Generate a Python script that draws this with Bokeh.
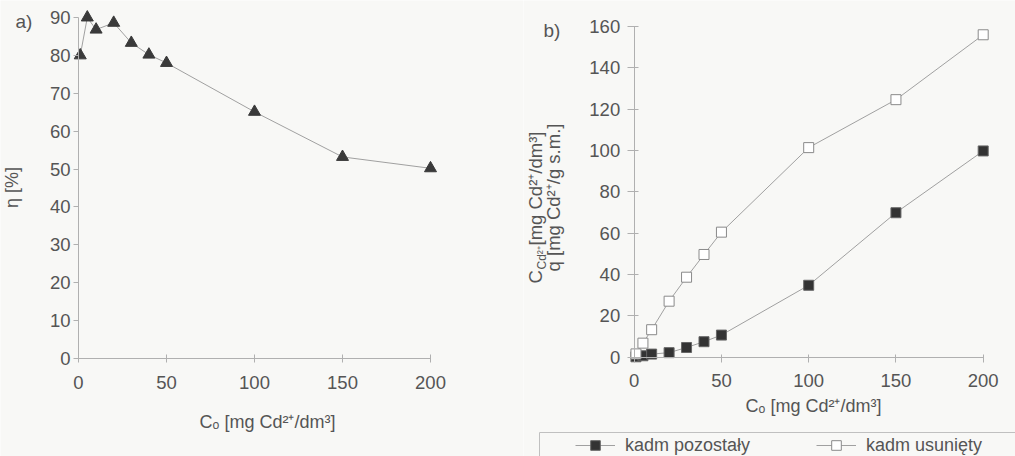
import math
from bokeh.plotting import figure
from bokeh.models import Range1d, FixedTicker, LinearAxis, Legend, LegendItem
from bokeh.layouts import row
from bokeh.embed import file_html
from bokeh.resources import INLINE
from bokeh.core.properties import value

# ---------------- data ----------------
conc = [1, 5, 10, 20, 30, 40, 50, 100, 150, 200]
eta = [80.0, 90.0, 86.8, 88.6, 83.3, 80.2, 78.0, 65.1, 53.2, 50.2]

remaining = [0.2, 0.7, 1.5, 2.2, 4.7, 7.5, 10.7, 34.8, 69.9, 99.8]
removed = [1.6, 6.8, 13.3, 27.1, 38.7, 49.7, 60.5, 101.4, 124.6, 156.0]

x_ticks = [0, 50, 100, 150, 200]
eta_ticks = [0, 10, 20, 30, 40, 50, 60, 70, 80, 90]
b_ticks = [0, 20, 40, 60, 80, 100, 120, 140, 160]

x_title = "Cₒ [mg Cd²⁺/dm³]"
eta_title = "η [%]"
legend_labels = ["kadm pozostały", "kadm usunięty"]

# ---------------- style ----------------
BG = "#f8f8f6"
TXT = "#555555"
AX = "#b0b0b0"
LINE = "#a0a0a0"
FONT = "Liberation Sans"
FS_TICK = "18.5px"
FS = "18px"
M = 0
H = 456
W_A, W_B = 523, 492


def make_fig(left, width, px0, px1, xv1, py0, py1, yv1):
    sx = (px1 - px0) / xv1
    sy = (py0 - py1) / yv1
    xr = Range1d((left - px0) / sx, (left + width - px0) / sx)
    yr = Range1d((py0 - (M + H)) / sy, (py0 - M) / sy)
    p = figure(width=width, height=H, x_range=xr, y_range=yr,
               output_backend="svg", toolbar_location=None, min_border=0,
               x_axis_type=None, y_axis_type=None,
               background_fill_color=BG, border_fill_color=BG,
               outline_line_color=None)

    def to_data(px, py):
        return ((px - px0) / sx, (py0 - py) / sy)
    return p, to_data


def style_axis(ax, t_in, t_out, standoff):
    ax.axis_line_color = AX
    ax.axis_line_width = 1
    ax.major_tick_line_color = AX
    ax.major_tick_in = t_in
    ax.major_tick_out = t_out
    ax.minor_tick_line_color = None
    ax.major_label_text_font = FONT
    ax.major_label_text_font_size = FS_TICK
    ax.major_label_text_color = TXT
    ax.major_label_standoff = standoff


def add_text(p, to_data, px, py, txt, align="center", angle=0.0, size=FS):
    x, y = to_data(px, py)
    p.text(x=[x], y=[y], text=[txt], text_font=value(FONT),
           text_font_size=value(size), text_color=TXT,
           text_align=align, text_baseline="middle", angle=angle)


# ---------------- chart a ----------------
pa, da = make_fig(M, W_A, 78, 430, 200, 358, 17, 90)

xa = LinearAxis(ticker=FixedTicker(ticks=x_ticks), fixed_location=0, bounds=(0, 200))
style_axis(xa, 4, 4, 13)
pa.add_layout(xa, "below")
ya = LinearAxis(ticker=FixedTicker(ticks=eta_ticks), fixed_location=0, bounds=(0, 90))
style_axis(ya, 0, 5, 3)
pa.add_layout(ya, "left")

pa.line(conc, eta, line_color=LINE, line_width=1)
pa.scatter(conc, eta, marker="triangle", size=12, fill_color="#3a3a3a",
           line_color="#3a3a3a")

add_text(pa, da, 15, 21, "a)", align="left", size="19px")
add_text(pa, da, 11, 187, eta_title, angle=math.pi / 2)
add_text(pa, da, 267, 421, x_title)

# ---------------- chart b ----------------
pb, db = make_fig(M + W_A, W_B, 633.7, 982.7, 200, 356.7, 26, 160)

xb = LinearAxis(ticker=FixedTicker(ticks=x_ticks), fixed_location=0, bounds=(0, 200))
style_axis(xb, 3, 5, 12)
pb.add_layout(xb, "below")
yb = LinearAxis(ticker=FixedTicker(ticks=b_ticks), fixed_location=0, bounds=(0, 160))
style_axis(yb, 4, 7, 7)
pb.add_layout(yb, "left")

l1 = pb.line(conc, remaining, line_color=LINE, line_width=1)
s1 = pb.scatter(conc, remaining, marker="square", size=10, fill_color="#333333",
                line_color="#666666")
l2 = pb.line(conc, removed, line_color=LINE, line_width=1)
s2 = pb.scatter(conc, removed, marker="square", size=10, fill_color="#ffffff",
                line_color="#8a8a8a")

add_text(pb, db, 543, 30, "b)", align="left", size="19px")
add_text(pb, db, 813, 405, x_title)

# rotated two-line y title with subscript
x1, y1 = db(535, 283)
pb.text(x=[x1], y=[y1], text=["C"], text_font=value(FONT),
        text_font_size=value("18.5px"), text_color=TXT, text_align="left",
        text_baseline="middle", angle=math.pi / 2)
x1s, y1s = db(541, 269)
pb.text(x=[x1s], y=[y1s], text=["Cd²⁺"], text_font=value(FONT),
        text_font_size=value("12px"), text_color=TXT, text_align="left",
        text_baseline="middle", angle=math.pi / 2)
x1r, y1r = db(535, 245)
pb.text(x=[x1r], y=[y1r], text=[" [mg Cd²⁺/dm³]"], text_font=value(FONT),
        text_font_size=value("18.5px"), text_color=TXT, text_align="left",
        text_baseline="middle", angle=math.pi / 2)
add_text(pb, db, 553, 197, "q [mg Cd²⁺/g s.m.]", angle=math.pi / 2, size="18.5px")

# legend frame
bx, by = zip(db(539, 470), db(539, 432), db(1020, 432))
pb.line(list(bx), list(by), line_color="#c0c0c0", line_width=1)

legend = Legend(items=[LegendItem(label=legend_labels[0], renderers=[l1, s1]),
                       LegendItem(label=legend_labels[1], renderers=[l2, s2])],
                orientation="horizontal", location=(577 - (M + W_A) - 2, -1),
                glyph_width=40, glyph_height=24, label_standoff=10, spacing=66,
                padding=2, margin=0, border_line_color=None,
                background_fill_alpha=0, label_text_font=FONT,
                label_text_font_size="18px", label_text_color=TXT)
pb.add_layout(legend)

layout = row(pa, pb)
html = file_html(layout, INLINE, "chart")
with open("out.html", "w") as f:
    f.write(html)
